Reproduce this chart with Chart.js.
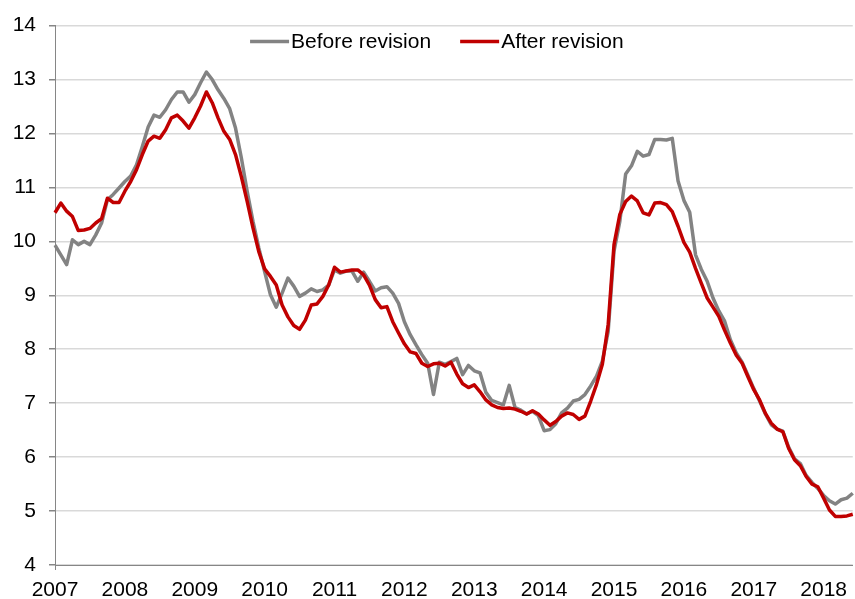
<!DOCTYPE html>
<html>
<head>
<meta charset="utf-8">
<script src="https://cdn.jsdelivr.net/npm/chart.js@4.4.0/dist/chart.umd.min.js"></script>
<style>
  body { margin: 0; background: #fff; }
  #wrap { width: 855px; height: 599px; }
</style>
</head>
<body>
<div id="wrap"><canvas id="lineChart" width="855" height="599"></canvas></div>
<script>

// DATA ######################################################################

var years = [2007, 2008, 2009, 2010, 2011, 2012, 2013, 2014, 2015, 2016, 2017, 2018];
var seriesNames = ["Before revision", "After revision"];

// monthly values, Jan 2007 .. Jun 2018
var beforeRevision = [
  9.93, 9.75, 9.57, 10.03, 9.94, 10.00, 9.94, 10.12, 10.34, 10.77, 10.87, 10.99,
  11.11, 11.21, 11.42, 11.76, 12.12, 12.34, 12.30, 12.44, 12.63, 12.77, 12.77, 12.58,
  12.72, 12.94, 13.14, 13.00, 12.81, 12.65, 12.46, 12.10, 11.55, 10.93, 10.37, 9.88,
  9.44, 9.01, 8.78, 9.04, 9.32, 9.17, 8.98, 9.04, 9.12, 9.07, 9.10, 9.19,
  9.47, 9.41, 9.45, 9.45, 9.26, 9.43, 9.26, 9.08, 9.14, 9.16, 9.04, 8.85,
  8.51, 8.27, 8.08, 7.90, 7.74, 7.16, 7.76, 7.72, 7.77, 7.83, 7.53, 7.70,
  7.60, 7.56, 7.20, 7.05, 7.01, 6.97, 7.33, 6.92, 6.87, 6.80, 6.85, 6.77,
  6.49, 6.51, 6.62, 6.82, 6.91, 7.04, 7.07, 7.16, 7.32, 7.50, 7.78, 8.33,
  9.82, 10.37, 11.25, 11.40, 11.67, 11.58, 11.61, 11.89, 11.89, 11.88, 11.91, 11.12,
  10.76, 10.54, 9.75, 9.48, 9.26, 8.95, 8.71, 8.52, 8.17, 7.93, 7.76, 7.52,
  7.27, 7.04, 6.80, 6.60, 6.52, 6.48, 6.18, 5.97, 5.88, 5.66, 5.53, 5.42,
  5.29, 5.19, 5.13, 5.21, 5.24, 5.33
];

var afterRevision = [
  10.53, 10.71, 10.56, 10.46, 10.20, 10.21, 10.24, 10.34, 10.42, 10.80, 10.72, 10.72,
  10.93, 11.11, 11.33, 11.61, 11.86, 11.95, 11.91, 12.07, 12.29, 12.34, 12.23, 12.10,
  12.29, 12.51, 12.77, 12.57, 12.29, 12.04, 11.89, 11.61, 11.20, 10.74, 10.25, 9.81,
  9.49, 9.35, 9.19, 8.82, 8.60, 8.44, 8.37, 8.54, 8.82, 8.84, 8.98, 9.19,
  9.52, 9.43, 9.45, 9.47, 9.47, 9.38, 9.19, 8.92, 8.77, 8.79, 8.51, 8.30,
  8.10, 7.95, 7.92, 7.74, 7.68, 7.73, 7.74, 7.69, 7.76, 7.54, 7.36, 7.29,
  7.34, 7.21, 7.06, 6.97, 6.92, 6.90, 6.91, 6.89, 6.85, 6.80, 6.86, 6.80,
  6.69, 6.59, 6.66, 6.76, 6.82, 6.79, 6.70, 6.76, 7.04, 7.35, 7.72, 8.46,
  9.94, 10.50, 10.74, 10.84, 10.75, 10.53, 10.49, 10.71, 10.72, 10.68, 10.55, 10.28,
  9.98, 9.80, 9.50, 9.22, 8.95, 8.78, 8.61, 8.35, 8.11, 7.89, 7.74, 7.49,
  7.25, 7.06, 6.81, 6.63, 6.52, 6.47, 6.16, 5.95, 5.84, 5.64, 5.50, 5.45,
  5.24, 5.02, 4.90, 4.90, 4.91, 4.94
];

var months = [];
for (var i = 0; i < beforeRevision.length; i++) {
    var y = years[0] + Math.floor(i / 12);
    var m = (i % 12) + 1;
    months.push(y + "-" + (m < 10 ? "0" + m : m));
}

// CHART #####################################################################

var fontFamily = '"Liberation Sans", Arial, sans-serif';
var axisGray = "#868686";

// legend drawn inside the plot, near the top
var insideLegend = {
    id: "insideLegend",
    afterDraw: function (chart) {
        var ctx = chart.ctx;
        var area = chart.chartArea;
        var sets = chart.data.datasets;
        var sample = 39, gap = 2, spacing = 29;
        ctx.save();
        ctx.font = "21px " + fontFamily;
        ctx.textBaseline = "middle";
        var total = 0;
        sets.forEach(function (ds, k) {
            total += sample + gap + ctx.measureText(ds.label).width;
            if (k > 0) { total += spacing; }
        });
        var x = (area.left + area.right) / 2 - total / 2 - 17;
        var yMid = area.top + 16;
        sets.forEach(function (ds) {
            ctx.strokeStyle = ds.borderColor;
            ctx.lineWidth = ds.borderWidth;
            ctx.beginPath();
            ctx.moveTo(x, yMid);
            ctx.lineTo(x + sample, yMid);
            ctx.stroke();
            ctx.fillStyle = "#000";
            ctx.fillText(ds.label, x + sample + gap, yMid + 1);
            x += sample + gap + ctx.measureText(ds.label).width + spacing;
        });
        ctx.restore();
    }
};

var ctx_line = document.getElementById("lineChart");
var myLineGraph = new Chart(ctx_line, {
    type: "line",
    data: {
        labels: months,
        datasets: [
            {
                label: seriesNames[0],
                data: beforeRevision,
                borderColor: "#838383",
                borderWidth: 3.5,
                pointRadius: 0,
                tension: 0,
                borderJoinStyle: "round",
                order: 2
            },
            {
                label: seriesNames[1],
                data: afterRevision,
                borderColor: "#c00000",
                borderWidth: 3.5,
                pointRadius: 0,
                tension: 0,
                borderJoinStyle: "round",
                order: 1
            }
        ]
    },
    options: {
        responsive: false,
        animation: false,
        layout: { padding: { top: 24, right: 0, left: 0, bottom: 0 } },
        plugins: {
            legend: { display: false },
            tooltip: { enabled: false }
        },
        scales: {
            x: {
                type: "category",
                offset: false,
                grid: {
                    display: true,
                    drawOnChartArea: false,
                    drawTicks: true,
                    tickLength: 5,
                    tickColor: function (c) {
                        return c.index % 12 === 0 ? axisGray : "rgba(0,0,0,0)";
                    }
                },
                border: { color: axisGray, width: 1 },
                ticks: {
                    autoSkip: false,
                    maxRotation: 0,
                    minRotation: 0,
                    color: "#000",
                    padding: 8,
                    font: { family: fontFamily, size: 21 },
                    callback: function (val, idx) {
                        return idx % 12 === 0 ? String(years[idx / 12]) : null;
                    }
                },
                afterFit: function (scale) { scale.height = 34; }
            },
            y: {
                min: 4,
                max: 14,
                ticks: {
                    stepSize: 1,
                    color: "#000",
                    padding: 13,
                    font: { family: fontFamily, size: 21 }
                },
                grid: {
                    color: "#d9d9d9",
                    lineWidth: 1.5,
                    tickColor: axisGray,
                    tickLength: 6
                },
                border: { color: axisGray, width: 1 },
                afterFit: function (scale) { scale.width = 55; }
            }
        }
    },
    plugins: [insideLegend]
});
</script>
</body>
</html>
